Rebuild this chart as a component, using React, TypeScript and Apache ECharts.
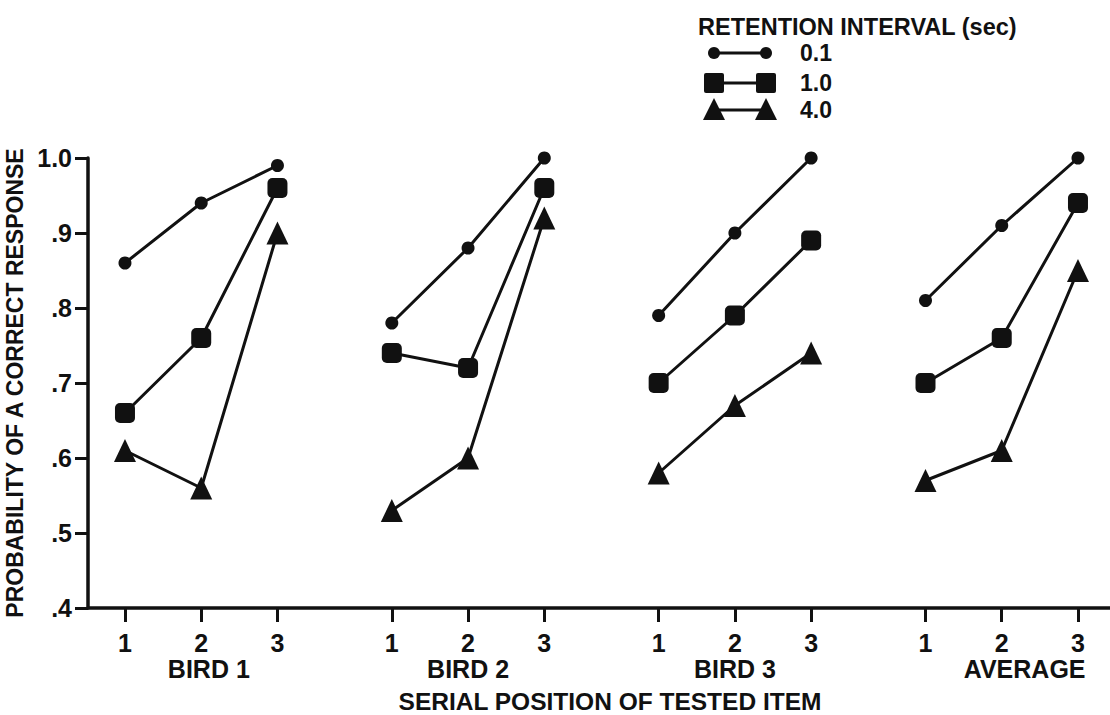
import React, { useEffect, useRef } from "react";
import * as echarts from "echarts";

// ---- data ----
const groupNames = ["BIRD 1", "BIRD 2", "BIRD 3", "AVERAGE"];
const serialPositions = ["1", "2", "3"];
const groupOffsets = [0, 3.5, 7, 10.5];
const groupLabelPos = [2.1, 5.5, 9.0, 12.8];
const intervals = ["0.1", "1.0", "4.0"];
const ri01 = [
  [0.86, 0.94, 0.99],
  [0.78, 0.88, 1.0],
  [0.79, 0.9, 1.0],
  [0.81, 0.91, 1.0],
];
const ri10 = [
  [0.66, 0.76, 0.96],
  [0.74, 0.72, 0.96],
  [0.7, 0.79, 0.89],
  [0.7, 0.76, 0.94],
];
const ri40 = [
  [0.61, 0.56, 0.9],
  [0.53, 0.6, 0.92],
  [0.58, 0.67, 0.74],
  [0.57, 0.61, 0.85],
];
const yTickLabels = [".4", ".5", ".6", ".7", ".8", ".9", "1.0"];

const FONT = "Liberation Sans";
const INK = "#111";

export default function App() {
  const ref = useRef<HTMLDivElement>(null);
  useEffect(() => {
    if (!ref.current) return;
    const chart = echarts.init(ref.current, null, { renderer: "svg" });

    const tickValues: number[] = [];
    const tickText: string[] = [];
    groupOffsets.forEach((off) => {
      serialPositions.forEach((p, i) => {
        tickValues.push(off + i + 1);
        tickText.push(p);
      });
    });

    const styles = [
      { values: ri01, symbol: "circle", size: 13 },
      { values: ri10, symbol: "roundRect", size: 20 },
      { values: ri40, symbol: "triangle", size: [22, 23] },
    ];
    const series: any[] = [];
    styles.forEach((st, si) => {
      st.values.forEach((vals, g) => {
        series.push({
          type: "line",
          name: intervals[si],
          xAxisIndex: 0,
          data: vals.map((v, i) => [groupOffsets[g] + i + 1, v]),
          symbol: st.symbol,
          symbolSize: st.size,
          showSymbol: true,
          lineStyle: { color: INK, width: 3 },
          itemStyle: { color: INK },
          z: 3 - si,
        });
      });
    });

    const lx1 = 714;
    const lx2 = 766;
    const rows = [53, 83, 110];
    const legendGraphics: any[] = [
      {
        type: "text",
        left: 698,
        top: 15,
        style: {
          text: "RETENTION INTERVAL (sec)",
          font: `bold 23.5px "${FONT}"`,
          fill: INK,
        },
      },
    ];
    rows.forEach((y, i) => {
      legendGraphics.push({
        type: "line",
        shape: { x1: lx1, y1: y, x2: lx2, y2: y },
        style: { stroke: INK, lineWidth: 3 },
      });
      [lx1, lx2].forEach((cx) => {
        if (i === 0) {
          legendGraphics.push({ type: "circle", shape: { cx, cy: y, r: 6 }, style: { fill: INK } });
        } else if (i === 1) {
          legendGraphics.push({
            type: "rect",
            shape: { x: cx - 10, y: y - 10, width: 20, height: 20, r: 2 },
            style: { fill: INK },
          });
        } else {
          legendGraphics.push({
            type: "polygon",
            shape: { points: [[cx, y - 12], [cx + 11, y + 10], [cx - 11, y + 10]] },
            style: { fill: INK },
          });
        }
      });
      legendGraphics.push({
        type: "text",
        x: 800,
        y,
        style: {
          text: intervals[i],
          font: `bold 23px "${FONT}"`,
          fill: INK,
          verticalAlign: "middle",
        },
      });
    });

    chart.setOption({
      animation: false,
      backgroundColor: "#fff",
      textStyle: { fontFamily: FONT, color: INK },
      grid: { left: 88, right: 0, top: 158, bottom: 107, containLabel: false, outerBoundsMode: "none" },
      xAxis: [
        {
          type: "value",
          min: 0.515,
          max: 13.92,
          position: "bottom",
          name: "SERIAL POSITION OF TESTED ITEM",
          nameLocation: "middle",
          nameGap: 81,
          nameTextStyle: {
            fontSize: 24.5,
            fontWeight: "bold",
            color: INK,
            fontFamily: FONT,
            padding: [0, 0, 0, 22],
          },
          splitLine: { show: false },
          axisLine: { show: true, onZero: false, lineStyle: { color: INK, width: 3.5 } },
          axisTick: {
            show: true,
            customValues: tickValues,
            length: 14,
            lineStyle: { color: INK, width: 3 },
          },
          axisLabel: {
            customValues: tickValues,
            formatter: (v: number) => tickText[tickValues.indexOf(v)] ?? "",
            fontSize: 25,
            fontWeight: "bold",
            color: INK,
            margin: 22,
            fontFamily: FONT,
          },
        },
        {
          type: "value",
          min: 0.515,
          max: 13.92,
          position: "bottom",
          offset: 0,
          splitLine: { show: false },
          axisLine: { show: false },
          axisTick: { show: false },
          axisLabel: {
            customValues: groupLabelPos,
            formatter: (v: number) => groupNames[groupLabelPos.indexOf(v)] ?? "",
            fontSize: 25,
            fontWeight: "bold",
            color: INK,
            margin: 48,
            fontFamily: FONT,
          },
        },
      ],
      yAxis: {
        type: "value",
        min: 0.4,
        max: 1.0,
        interval: 0.1,
        name: "PROBABILITY OF A CORRECT RESPONSE",
        nameLocation: "middle",
        nameGap: 60,
        nameTextStyle: { fontSize: 23, fontWeight: "bold", color: INK, fontFamily: FONT },
        splitLine: { show: false },
        axisLine: { show: true, lineStyle: { color: INK, width: 3.5 } },
        axisTick: { show: true, length: 13, lineStyle: { color: INK, width: 3 } },
        axisLabel: {
          formatter: (v: number) => yTickLabels[Math.round(v * 10) - 4] ?? "",
          fontSize: 25,
          fontWeight: "bold",
          color: INK,
          margin: 16,
          fontFamily: FONT,
        },
      },
      series,
      graphic: legendGraphics,
    });
    return () => chart.dispose();
  }, []);
  return (
    <div
      ref={ref}
      style={{ position: "fixed", left: 0, top: 0, width: 1110, height: 715, background: "#fff" }}
    />
  );
}
